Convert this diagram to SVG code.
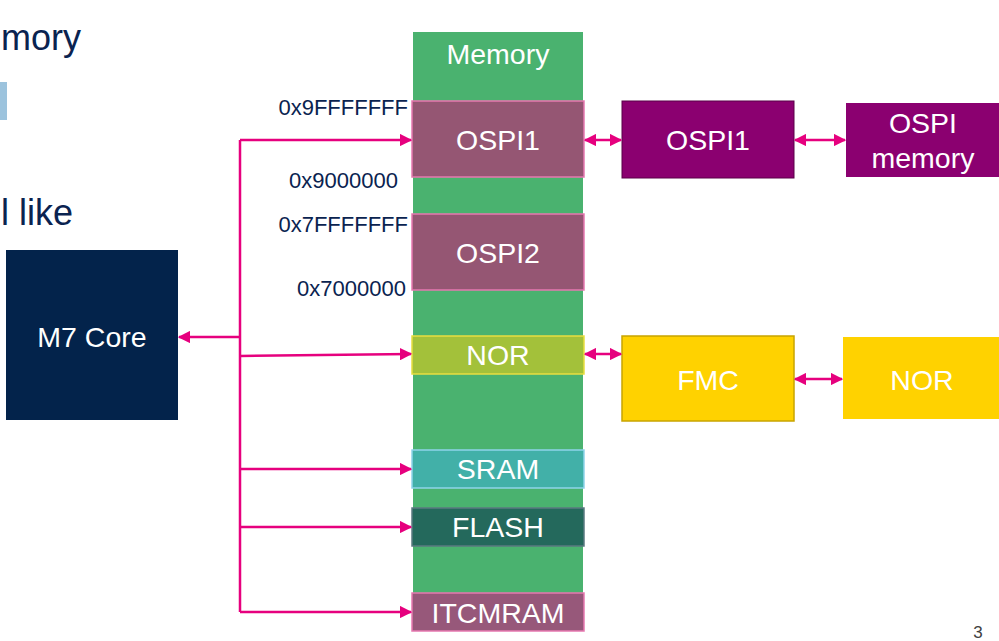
<svg xmlns="http://www.w3.org/2000/svg" width="999" height="641" viewBox="0 0 999 641">
<style>
text{font-family:"Liberation Sans",Arial,sans-serif}
.w{fill:#ffffff;font-size:28.5px;text-anchor:middle}
.addr{fill:#0a2350;font-size:22px;text-anchor:end}
.head{fill:#0a2350;font-size:36px}
.c{fill:none;stroke:#e6007e;stroke-width:2.5}
.mem{stroke-width:1.5}
</style>
<defs>
<marker id="ah" viewBox="0 0 10 10" refX="9" refY="5" markerWidth="5" markerHeight="5" orient="auto-start-reverse" markerUnits="strokeWidth">
<path d="M0,0 L10,5 L0,10 z" fill="#e6007e"/>
</marker>
</defs>
<rect width="999" height="641" fill="#ffffff"/>
<g id="header">
<text class="head" x="1" y="50">mory</text>
<rect x="0" y="82" width="7" height="38" fill="#9cc3dd"/>
<text class="head" x="1" y="225">l like</text>
<text x="978" y="638" font-size="17" fill="#404040" text-anchor="middle">3</text>
</g>
<g id="m7core">
<rect x="6" y="250" width="172" height="170" fill="#03234b"/>
<text class="w" x="92" y="347">M7 Core</text>
</g>
<g id="memory">
<rect x="413" y="32" width="170" height="599" fill="#4ab26f"/>
<text class="w" x="498" y="64">Memory</text>
</g>
<g id="mem-ospi1">
<rect class="mem" x="412" y="101" width="172" height="76" fill="#955673" stroke="#e678b0"/>
<text class="w" x="498" y="150">OSPI1</text>
</g>
<g id="mem-ospi2">
<rect class="mem" x="412" y="214" width="172" height="76" fill="#955673" stroke="#e678b0"/>
<text class="w" x="498" y="263">OSPI2</text>
</g>
<g id="mem-nor">
<rect class="mem" x="412" y="336" width="172" height="38" fill="#a3c13a" stroke="#e8de40"/>
<text class="w" x="498" y="365">NOR</text>
</g>
<g id="mem-sram">
<rect class="mem" x="412" y="450" width="172" height="38" fill="#42b0a8" stroke="#8fd4ea"/>
<text class="w" x="498" y="479">SRAM</text>
</g>
<g id="mem-flash">
<rect class="mem" x="412" y="508" width="172" height="38" fill="#24695c" stroke="#5a7a80"/>
<text class="w" x="498" y="537">FLASH</text>
</g>
<g id="mem-itcmram">
<rect class="mem" x="412" y="593" width="172" height="38" fill="#97587a" stroke="#e678b0"/>
<text class="w" x="498" y="623">ITCMRAM</text>
</g>
<g id="addresses">
<text class="addr" x="408" y="115">0x9FFFFFFF</text>
<text class="addr" x="398" y="188">0x9000000</text>
<text class="addr" x="408" y="232">0x7FFFFFFF</text>
<text class="addr" x="406" y="296">0x7000000</text>
</g>
<g id="ospi1">
<rect x="622" y="101" width="172" height="77" fill="#8b0070" stroke="#5a0048" stroke-width="1"/>
<text class="w" x="708" y="150">OSPI1</text>
</g>
<g id="ospi-memory">
<rect x="846" y="103" width="160" height="74" fill="#8b0070"/>
<text class="w" x="923" y="133">OSPI</text>
<text class="w" x="923" y="168">memory</text>
</g>
<g id="fmc">
<rect x="622" y="336" width="172" height="85" fill="#ffd200" stroke="#c8a400" stroke-width="1.5"/>
<text class="w" x="708" y="390">FMC</text>
</g>
<g id="nor">
<rect x="843" y="337" width="160" height="82" fill="#ffd200"/>
<text class="w" x="922" y="390">NOR</text>
</g>
<g id="connectors">
<path class="c" d="M240,140 V612"/>
<path class="c" d="M240,140 H411" marker-end="url(#ah)"/>
<path class="c" d="M240,337 H179" marker-end="url(#ah)"/>
<path class="c" d="M240,356 L411,354" marker-end="url(#ah)"/>
<path class="c" d="M240,469 H411" marker-end="url(#ah)"/>
<path class="c" d="M240,527 H411" marker-end="url(#ah)"/>
<path class="c" d="M240,612 H411" marker-end="url(#ah)"/>
<path class="c" d="M585,140 H621" marker-start="url(#ah)" marker-end="url(#ah)"/>
<path class="c" d="M795,140 H845" marker-start="url(#ah)" marker-end="url(#ah)"/>
<path class="c" d="M585,354 H621" marker-start="url(#ah)" marker-end="url(#ah)"/>
<path class="c" d="M795,379 H842" marker-start="url(#ah)" marker-end="url(#ah)"/>
</g>
</svg>
